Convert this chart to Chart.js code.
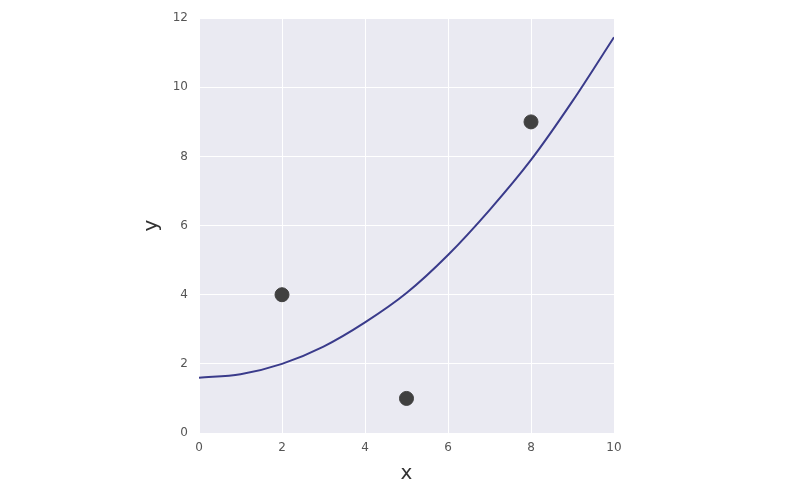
<!DOCTYPE html>
<html>
<head>
<meta charset="utf-8">
<script src="https://cdn.jsdelivr.net/npm/chart.js@4"></script>
<style>
  html, body { margin: 0; padding: 0; background: #fff; }
  #wrap { width: 800px; height: 494px; }
</style>
</head>
<body>
<div id="wrap"><canvas id="plot" width="800" height="494"></canvas></div>
<script>
// observed points
var pointX = [2, 5, 8];
var pointY = [4, 1, 9];

// fitted curve
var curveX = [0, 1, 2, 3, 4, 5, 6, 7, 8, 9, 10];
var curveY = [1.6, 1.7, 2.0, 2.5, 3.2, 4.05, 5.15, 6.45, 7.9, 9.6, 11.45];

var xTicks = [0, 2, 4, 6, 8, 10];
var yTicks = [0, 2, 4, 6, 8, 10, 12];

function toXY(xs, ys) {
    return xs.map(function (x, i) { return { x: x, y: ys[i] }; });
}

// grey panel behind the plot area
var panelBg = {
    id: 'panelBg',
    beforeDraw: function (chart) {
        var a = chart.chartArea;
        var ctx = chart.ctx;
        ctx.save();
        ctx.fillStyle = '#eaeaf2';
        ctx.fillRect(a.left, a.top, a.right - a.left, a.bottom - a.top);
        ctx.restore();
    }
};

var tickFont = { family: 'DejaVu Sans', size: 12 };

var ctx = document.getElementById('plot').getContext('2d');
var myChart = new Chart(ctx, {
    type: 'scatter',
    data: {
        datasets: [
            {
                data: toXY(curveX, curveY),
                showLine: true,
                borderColor: '#3a3b8b',
                borderWidth: 2,
                pointRadius: 0,
                cubicInterpolationMode: 'monotone',
                order: 2
            },
            {
                data: toXY(pointX, pointY),
                backgroundColor: '#404040',
                borderColor: '#404040',
                pointRadius: 7,
                order: 1
            }
        ]
    },
    options: {
        responsive: false,
        animation: false,
        layout: { padding: { left: 140, right: 186, top: 18, bottom: 8 } },
        plugins: {
            legend: { display: false },
            tooltip: { enabled: false }
        },
        scales: {
            x: {
                type: 'linear',
                min: 0,
                max: 10,
                afterBuildTicks: function (axis) {
                    axis.ticks = xTicks.map(function (v) { return { value: v }; });
                },
                afterFit: function (axis) { axis.height = 53; },
                grid: { color: '#ffffff', lineWidth: 1, drawTicks: false },
                border: { display: false },
                ticks: { color: '#555', font: tickFont, padding: 8 },
                title: {
                    display: true,
                    text: 'x',
                    color: '#333',
                    font: { family: 'DejaVu Sans', size: 20 },
                    padding: { top: 2, bottom: 0 }
                }
            },
            y: {
                type: 'linear',
                min: 0,
                max: 12,
                afterBuildTicks: function (axis) {
                    axis.ticks = yTicks.map(function (v) { return { value: v }; });
                },
                afterFit: function (axis) { axis.width = 59; },
                grid: { color: '#ffffff', lineWidth: 1, drawTicks: false },
                border: { display: false },
                ticks: { color: '#555', font: tickFont, padding: 11 },
                title: {
                    display: true,
                    text: 'y',
                    color: '#333',
                    font: { family: 'DejaVu Sans', size: 20 },
                    padding: { top: 0, bottom: 0 }
                }
            }
        }
    },
    plugins: [panelBg]
});
</script>
</body>
</html>
